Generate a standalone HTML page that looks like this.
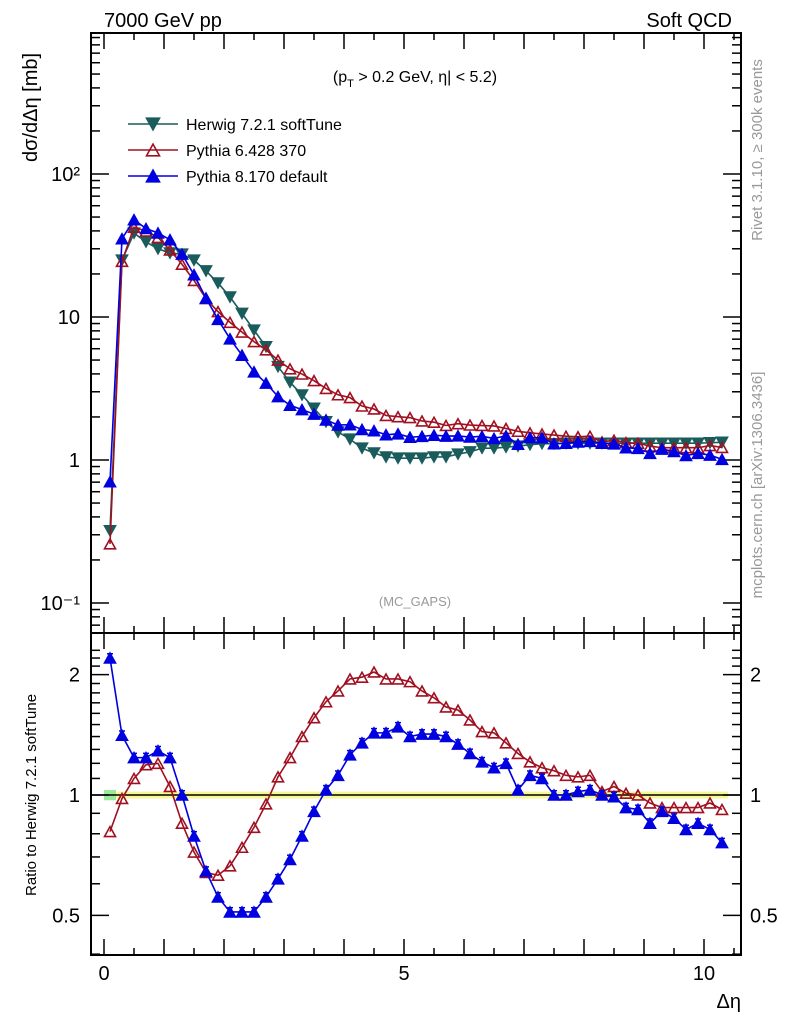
<!DOCTYPE html>
<html><head><meta charset="utf-8"><style>
body{margin:0;background:#fff}
svg{display:block;font-family:"Liberation Sans",sans-serif}
</style></head><body>
<svg id="c" width="786" height="1024" viewBox="0 0 786 1024" xmlns="http://www.w3.org/2000/svg">
<text x="104" y="27" font-size="20">7000 GeV pp</text>
<text x="732" y="27" font-size="20" text-anchor="end">Soft QCD</text>
<text x="415" y="82" font-size="16" text-anchor="middle">(p<tspan font-size="11" dy="5">T</tspan><tspan dy="-5"> &gt; 0.2 GeV, η| &lt; 5.2)</tspan></text>
<text x="415" y="606" font-size="13" fill="#999" text-anchor="middle">(MC_GAPS)</text>
<text transform="translate(762,150) rotate(-90)" font-size="15" fill="#999" text-anchor="middle">Rivet 3.1.10, ≥ 300k events</text>
<text transform="translate(762,485) rotate(-90)" font-size="15" fill="#999" text-anchor="middle">mcplots.cern.ch [arXiv:1306.3436]</text>
<text transform="translate(37,162) rotate(-90)" font-size="20" text-anchor="start">dσ/dΔη [mb]</text>
<text transform="translate(36,795) rotate(-90)" font-size="15" text-anchor="middle">Ratio to Herwig 7.2.1 softTune</text>
<text x="741" y="1008" font-size="20" text-anchor="end">Δη</text>
<g id="g"></g>
</svg>
<script>
const xs = [];
for (let i = 0; i < 52; i++) xs.push(0.1 + 0.2 * i);
const herwig = [0.32,25,38.6,33.5,30,28,27.5,25,21,17.3,13.8,10.6,8.1,6.2,4.5,3.5,2.85,2.3,1.85,1.57,1.40,1.21,1.12,1.05,1.03,1.03,1.03,1.05,1.05,1.10,1.14,1.21,1.21,1.23,1.25,1.28,1.30,1.30,1.31,1.31,1.31,1.31,1.31,1.31,1.31,1.31,1.31,1.31,1.31,1.31,1.32,1.33];
const p6Ratio = [0.81,0.98,1.10,1.19,1.20,1.05,0.85,0.72,0.64,0.63,0.665,0.74,0.83,0.95,1.11,1.24,1.40,1.56,1.71,1.82,1.95,1.97,2.03,1.95,1.95,1.92,1.82,1.75,1.66,1.63,1.54,1.44,1.43,1.35,1.27,1.21,1.17,1.15,1.12,1.11,1.12,1.02,1.05,1.01,1.0,0.955,0.93,0.93,0.93,0.93,0.955,0.92];
const p8Ratio = [2.2,1.41,1.24,1.24,1.29,1.24,1.0,0.79,0.645,0.556,0.51,0.51,0.51,0.556,0.617,0.69,0.79,0.91,1.03,1.12,1.26,1.35,1.43,1.43,1.48,1.40,1.42,1.42,1.40,1.34,1.27,1.21,1.17,1.20,1.03,1.12,1.10,1.0,1.0,1.02,1.03,1.0,0.99,0.93,0.92,0.85,0.91,0.875,0.82,0.85,0.82,0.76];
const xTicks = [0,5,10];
const yMainTicks = [[0.1,"10⁻¹"],[1,"1"],[10,"10"],[100,"10²"]];
const yRatioTicks = [[0.5,"0.5"],[1,"1"],[2,"2"]];

const L=91,R=741,T=33,MB=633,RB=955;
const X=v=>104+60*v;
const YM=v=>460-143*Math.log10(v);
const YR=v=>795-400*Math.log10(v);
const g=document.getElementById('g');
const NS='http://www.w3.org/2000/svg';
function mk(t,a,p){const e=document.createElementNS(NS,t);for(const k in a)e.setAttribute(k,a[k]);(p||g).appendChild(e);return e;}

let band=mk('rect',{x:X(0),y:YR(1.02),width:X(10.4)-X(0),height:YR(0.98)-YR(1.02),fill:'#f5f57a',opacity:0.8});


let band2=mk('rect',{x:X(0),y:YR(1.03),width:12,height:YR(0.97)-YR(1.03),fill:'#9ee89e'});



let f1=mk('rect',{x:L,y:T,width:R-L,height:MB-T,fill:'none',stroke:'#000','stroke-width':2});


let f2=mk('rect',{x:L,y:MB,width:R-L,height:RB-MB,fill:'none',stroke:'#000','stroke-width':2});



for(let v=0;v<=10.6;v+=0.5){const len=(Math.round(v*2)%2===0)?16:7;
 for(const [yb,yt] of [[MB,T],[RB,MB]]){mk('line',{x1:X(v),x2:X(v),y1:yb,y2:yb-len,stroke:'#000','stroke-width':1.5});mk('line',{x1:X(v),x2:X(v),y1:yt,y2:yt+len,stroke:'#000','stroke-width':1.5});}}
xTicks.forEach(v=>{const t=mk('text',{x:X(v),y:980,'font-size':20,'text-anchor':'middle'});t.textContent=v;

});
for(let d=-2;d<=2;d++)for(let m=1;m<10;m++){const v=m*Math.pow(10,d);const y=YM(v);if(y<T||y>MB)continue;const len=m===1?18:9;
 mk('line',{x1:L,x2:L+len,y1:y,y2:y,stroke:'#000','stroke-width':1.5});mk('line',{x1:R,x2:R-len,y1:y,y2:y,stroke:'#000','stroke-width':1.5});}
yMainTicks.forEach(([v,s])=>{const t=mk('text',{x:80,y:YM(v)+7,'font-size':20,'text-anchor':'end'});t.textContent=s;

});
for(let v=0.4;v<=2.35;v+=0.1){const y=YR(v);if(y<MB||y>RB)continue;const maj=[0.5,1,2].some(q=>Math.abs(q-v)<1e-6);const len=maj?18:9;
 mk('line',{x1:L,x2:L+len,y1:y,y2:y,stroke:'#000','stroke-width':1.5});mk('line',{x1:R,x2:R-len,y1:y,y2:y,stroke:'#000','stroke-width':1.5});}
yRatioTicks.forEach(([v,s])=>{let t=mk('text',{x:80,y:YR(v)+7,'font-size':20,'text-anchor':'end'});t.textContent=s;


t=mk('text',{x:750,y:YR(v)+7,'font-size':20});t.textContent=s;

});
let one=mk('line',{x1:L,x2:R,y1:YR(1),y2:YR(1),stroke:'#000','stroke-width':1.5});



function tri(x,y,s,down,color,fill,name){const h=s*0.9;const p=down?`${x-s/2},${y-h/2} ${x+s/2},${y-h/2} ${x},${y+h/2}`:`${x-s/2},${y+h/2} ${x+s/2},${y+h/2} ${x},${y-h/2}`;
 const e=mk('polygon',{points:p,fill:fill,stroke:color,'stroke-width':1.6});
 
 }
function series(vals,Y,color,down,fill,name,err){
 const pts=vals.map((v,i)=>X(xs[i])+','+Y(v)).join(' ');
 const l=mk('polyline',{points:pts,fill:'none',stroke:color,'stroke-width':1.6});
 
 
 vals.forEach((v,i)=>{
  if(err){const y1=Y(v*1.025),y2=Y(v/1.025);mk('line',{x1:X(xs[i]),x2:X(xs[i]),y1:y1,y2:y2,stroke:color,'stroke-width':1.5});mk('line',{x1:X(xs[i])-3,x2:X(xs[i])+3,y1:y1,y2:y1,stroke:color,'stroke-width':1.5});}
  tri(X(xs[i]),Y(v),11,down,color,fill,name+'-point');});
}
const p6=herwig.map((h,i)=>h*p6Ratio[i]);
const p8=herwig.map((h,i)=>h*p8Ratio[i]);
series(herwig,YM,'#1a5c5c',true,'#1a5c5c','herwig');
series(p6,YM,'#a01020',false,'none','pythia6');
series(p8,YM,'#0000e0',false,'#0000e0','pythia8');
series(p6Ratio,YR,'#a01020',false,'none','pythia6-ratio');
series(p8Ratio,YR,'#0000e0',false,'#0000e0','pythia8-ratio',true);

const leg=[['Herwig 7.2.1 softTune','#1a5c5c',true,'#1a5c5c',124],['Pythia 6.428 370','#a01020',false,'none',150],['Pythia 8.170 default','#0000e0',false,'#0000e0',176]];
leg.forEach(([s,c,d,f,y])=>{mk('line',{x1:128,x2:178,y1:y,y2:y,stroke:c,'stroke-width':1.6});tri(153,y,13,d,c,f,'legend-marker');
 const t=mk('text',{x:186,y:y+6,'font-size':16});t.textContent=s;
 
 });
</script>
</body></html>
